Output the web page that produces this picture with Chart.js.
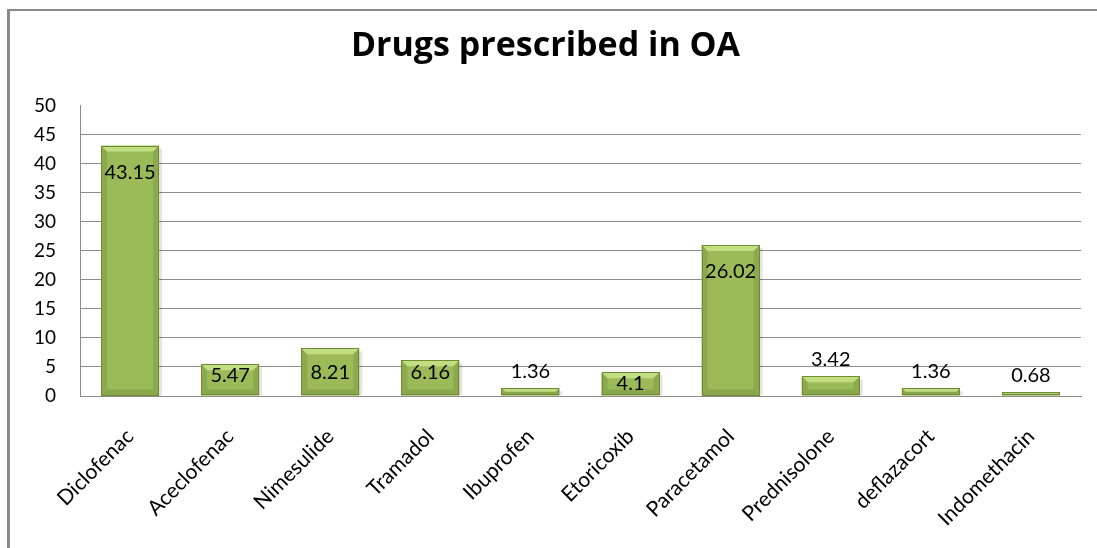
<!DOCTYPE html>
<html>
<head>
<meta charset="utf-8">
<script src="https://cdn.jsdelivr.net/npm/chart.js@4.4.1/dist/chart.umd.min.js"></script>
<style>
  html, body { margin: 0; padding: 0; background: #fff; }
  #wrap { position: relative; width: 1097px; height: 548px; }
</style>
</head>
<body>
<div id="wrap"><canvas id="chart" width="1097" height="548"></canvas></div>
<script>
// Drugs prescribed in OA - values as printed on the bars
const categories = ['Diclofenac', 'Aceclofenac', 'Nimesulide', 'Tramadol', 'Ibuprofen',
  'Etoricoxib', 'Paracetamol', 'Prednisolone', 'deflazacort', 'Indomethacin'];
const values = [43.15, 5.47, 8.21, 6.16, 1.36, 4.1, 26.02, 3.42, 1.36, 0.68];
const yMin = 0, yMax = 50, yStep = 5;

const FONT = 'Lato, "Open Sans", sans-serif';
const GRID = '#8c8c8c';

// bar fill: vertical gradient per bar, lighter at the top
function barFill(ctx) {
  const el = ctx.element;
  const chart = ctx.chart;
  if (!el || !chart.chartArea) return '#9bbb59';
  const top = Math.min(el.y, el.base), bot = Math.max(el.y, el.base);
  if (!isFinite(top) || !isFinite(bot) || bot - top < 1) return '#9bbb59';
  const g = chart.ctx.createLinearGradient(0, top, 0, bot);
  g.addColorStop(0, '#add25e');
  g.addColorStop(1, '#8aa845');
  return g;
}

// frame around the chart (left + top edges only are visible)
const framePlugin = {
  id: 'frame',
  beforeDraw(chart) {
    const c = chart.ctx;
    c.save();
    c.strokeStyle = '#8a8a8a';
    c.lineWidth = 3;
    c.beginPath(); c.moveTo(8.5, 9); c.lineTo(8.5, 548); c.stroke();
    c.lineWidth = 2;
    c.beginPath(); c.moveTo(7, 10); c.lineTo(1097, 10); c.stroke();
    c.restore();
  }
};

// bevel look on each bar + value labels
const bevelPlugin = {
  id: 'bevel',
  afterDatasetsDraw(chart) {
    const c = chart.ctx;
    const meta = chart.getDatasetMeta(0);
    c.save();
    meta.data.forEach((bar, i) => {
      const p = bar.getProps(['x', 'y', 'base', 'width'], true);
      const l = p.x - p.width / 2, r = p.x + p.width / 2;
      const t = p.y, b = p.base;
      const h = b - t;
      const bv = Math.min(6, h / 2);
      // top bevel
      c.fillStyle = 'rgba(220,245,160,0.6)';
      c.beginPath(); c.moveTo(l, t); c.lineTo(r, t); c.lineTo(r - bv, t + bv); c.lineTo(l + bv, t + bv); c.closePath(); c.fill();
      // side bevels
      c.fillStyle = 'rgba(70,95,20,0.18)';
      c.beginPath(); c.moveTo(l, t); c.lineTo(l + bv, t + bv); c.lineTo(l + bv, b - bv); c.lineTo(l, b); c.closePath(); c.fill();
      c.beginPath(); c.moveTo(r, t); c.lineTo(r - bv, t + bv); c.lineTo(r - bv, b - bv); c.lineTo(r, b); c.closePath(); c.fill();
      // bottom bevel
      c.fillStyle = 'rgba(60,85,15,0.2)';
      c.beginPath(); c.moveTo(l, b); c.lineTo(r, b); c.lineTo(r - bv, b - bv); c.lineTo(l + bv, b - bv); c.closePath(); c.fill();
      // soft shadow on right
      c.fillStyle = 'rgba(0,0,0,0.1)';
      c.fillRect(r, t + 3, 3, h - 3);
      // outline
      c.strokeStyle = '#6f8c30';
      c.lineWidth = 1;
      c.strokeRect(Math.round(l) + 0.5, Math.round(t) + 0.5, Math.round(r - l) - 1, Math.round(h) - 1);

      // value label
      const v = values[i];
      let ly;
      if (v >= 4) {
        ly = Math.max(Math.min(t + 27, b - 23), t + 11);
      } else {
        ly = t - 17;
      }
      c.fillStyle = '#000';
      c.font = '20px ' + FONT;
      c.textAlign = 'center';
      c.textBaseline = 'middle';
      c.fillText(String(v), p.x, ly);
    });
    c.restore();
  }
};

new Chart(document.getElementById('chart'), {
  type: 'bar',
  data: {
    labels: categories,
    datasets: [{
      data: values,
      backgroundColor: barFill,
      borderWidth: 0,
      barPercentage: 0.58,
      categoryPercentage: 1
    }]
  },
  options: {
    responsive: false,
    animation: false,
    layout: { padding: { left: 10, right: 16, top: 0, bottom: 0 } },
    plugins: {
      legend: { display: false },
      tooltip: { enabled: false },
      title: {
        display: true,
        text: 'Drugs prescribed in OA',
        color: '#000',
        font: { family: '"Open Sans", sans-serif', size: 34, weight: 'bold', lineHeight: 1.2 },
        padding: { top: 26, bottom: 39 }
      }
    },
    scales: {
      x: {
        grid: { display: false, drawTicks: false },
        border: { display: true, color: GRID, width: 1 },
        ticks: {
          color: '#000',
          font: { family: FONT, size: 21 },
          maxRotation: 45, minRotation: 45,
          padding: 28,
          autoSkip: false
        },
        afterFit(scale) { scale.height = 152; }
      },
      y: {
        min: yMin, max: yMax,
        grid: {
          drawTicks: false,
          color: ctx => (ctx.tick && ctx.tick.value === yMax) ? 'rgba(0,0,0,0)' : GRID,
          lineWidth: 1
        },
        border: { display: true, color: GRID, width: 1 },
        ticks: {
          stepSize: yStep,
          color: '#000',
          font: { family: FONT, size: 19 },
          padding: 24
        },
        afterFit(scale) { scale.width = 70; }
      }
    }
  },
  plugins: [framePlugin, bevelPlugin]
});
</script>
</body>
</html>
